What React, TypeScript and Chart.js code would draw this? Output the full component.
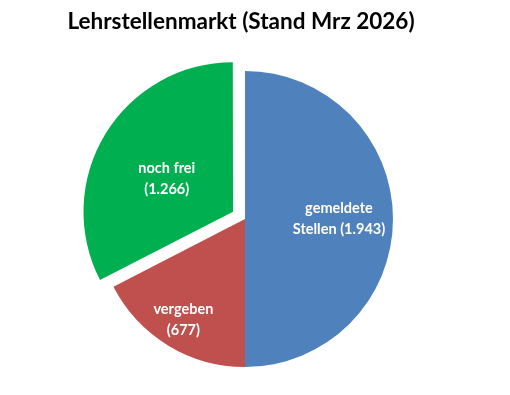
import React, { useEffect, useRef } from "react";
import { Chart, registerables } from "chart.js";

Chart.register(...registerables);

const titleText = "Lehrstellenmarkt (Stand Mrz 2026)";
const categories = ["gemeldete Stellen", "vergeben", "noch frei"];
const values = [1943, 677, 1266];
const labelLines = [
  ["gemeldete", "Stellen (1.943)"],
  ["vergeben", "(677)"],
  ["noch frei", "(1.266)"],
];
const colors = ["#4F81BD", "#C0504D", "#00B050"];
const offsets = [0, 0, 56];
const labelRadiusFrac = [0.635, 0.8, 0.5];
const labelAngleTweakDeg = [0, 0, -5];

const FONT = "Lato, 'Open Sans', sans-serif";

const labelPlugin = {
  id: "sliceLabels",
  afterDatasetsDraw(chart: any) {
    const ctx = chart.ctx;
    const meta = chart.getDatasetMeta(0);
    ctx.save();
    ctx.fillStyle = "#ffffff";
    ctx.font = `bold 14.5px ${FONT}`;
    ctx.textAlign = "center";
    ctx.textBaseline = "middle";
    meta.data.forEach((arc: any, i: number) => {
      const p = arc.getProps(["x", "y", "startAngle", "endAngle", "outerRadius"], true);
      const mid = (p.startAngle + p.endAngle) / 2;
      const off = (offsets[i] || 0) / 4;
      const cx = p.x + Math.cos(mid) * off;
      const cy = p.y + Math.sin(mid) * off;
      const r = p.outerRadius * labelRadiusFrac[i];
      const a = mid + (labelAngleTweakDeg[i] * Math.PI) / 180;
      const lx = cx + Math.cos(a) * r;
      const ly = cy + Math.sin(a) * r;
      const lines = labelLines[i];
      const lh = 21;
      lines.forEach((t, k) => {
        ctx.fillText(t, lx, ly + (k - (lines.length - 1) / 2) * lh);
      });
    });
    ctx.restore();
  },
};

const titlePlugin = {
  id: "customTitle",
  afterDraw(chart: any) {
    const ctx = chart.ctx;
    ctx.save();
    ctx.fillStyle = "#000000";
    ctx.font = `bold 22.5px ${FONT}`;
    ctx.textAlign = "center";
    ctx.textBaseline = "middle";
    ctx.fillText(titleText, 241, 22);
    ctx.restore();
  },
};

export default function App() {
  const ref = useRef<HTMLCanvasElement>(null);
  useEffect(() => {
    if (!ref.current) return;
    const chart = new Chart(ref.current, {
      type: "pie",
      data: {
        labels: categories,
        datasets: [
          {
            data: values,
            backgroundColor: colors,
            borderWidth: 0,
            offset: offsets,
          },
        ],
      },
      options: {
        responsive: false,
        animation: false,
        radius: 148,
        layout: { padding: { left: 0, right: 20, top: 43, bottom: 0 } },
        plugins: {
          legend: { display: false },
          title: { display: false },
          tooltip: { enabled: false },
        },
      } as any,
      plugins: [labelPlugin, titlePlugin],
    });
    return () => chart.destroy();
  }, []);
  return (
    <div style={{ position: "fixed", left: 0, top: 0, width: 510, height: 395, background: "#fff" }}>
      <canvas ref={ref} width={510} height={395} style={{ width: 510, height: 395 }} />
    </div>
  );
}
